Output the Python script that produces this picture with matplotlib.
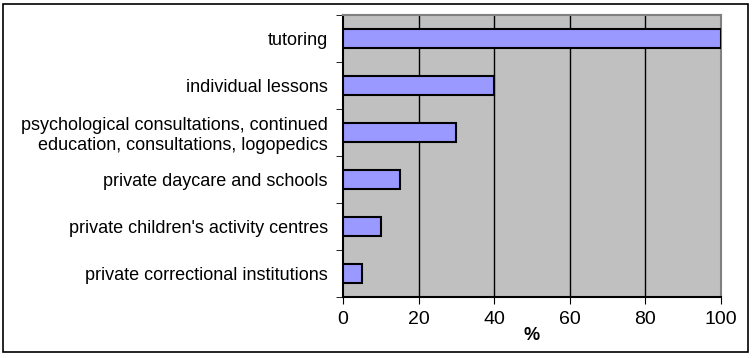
import matplotlib.pyplot as plt
from matplotlib.patches import Rectangle
import numpy as np

plt.rcParams['font.family'] = ['Liberation Sans', 'DejaVu Sans']

categories = ["tutoring",
              "individual lessons",
              "psychological consultations, continued\neducation, consultations, logopedics",
              "private daycare and schools",
              "private children's activity centres",
              "private correctional institutions"]
values = [100, 40, 30, 15, 10, 5]

fig = plt.figure(figsize=(7.52, 3.58), dpi=100)
ax = fig.add_axes([343/752, 1-297/358, (721-343)/752, (297-15)/358])
ax.set_facecolor("#C0C0C0")

pos = np.arange(len(categories))[::-1]
ax.barh(pos, values, height=0.4, color="#9999FF", edgecolor="black", linewidth=1.5, zorder=3)

ax.set_xlim(0, 100)
ax.set_ylim(-0.5, len(categories) - 0.5)
ax.set_xticks([0, 20, 40, 60, 80, 100])
ax.tick_params(axis='x', labelsize=14, length=5, direction='out', pad=5)
ax.set_xlabel("%", fontsize=13, fontweight='bold', labelpad=-1)

ax.set_yticks(pos)
ax.set_yticklabels(categories, fontsize=13, ha='right')
ax.tick_params(axis='y', which='major', length=0, pad=11)
ax.set_yticks(np.arange(-0.5, len(categories)), minor=True)
ax.tick_params(axis='y', which='minor', length=5, direction='out')

for x in [20, 40, 60, 80]:
    ax.axvline(x, color="black", linewidth=1, zorder=1)

ax.spines['left'].set_color("black")
ax.spines['bottom'].set_color("black")
ax.spines['right'].set_color("#808080")
ax.spines['top'].set_color("#808080")
for s in ax.spines.values():
    s.set_linewidth(1.5)

fig.patches.append(Rectangle((3/752, 1-352/358), 745/752, 348/358, transform=fig.transFigure,
                             fill=False, edgecolor="black", linewidth=1.2))

fig.savefig("out.png", dpi=100)
